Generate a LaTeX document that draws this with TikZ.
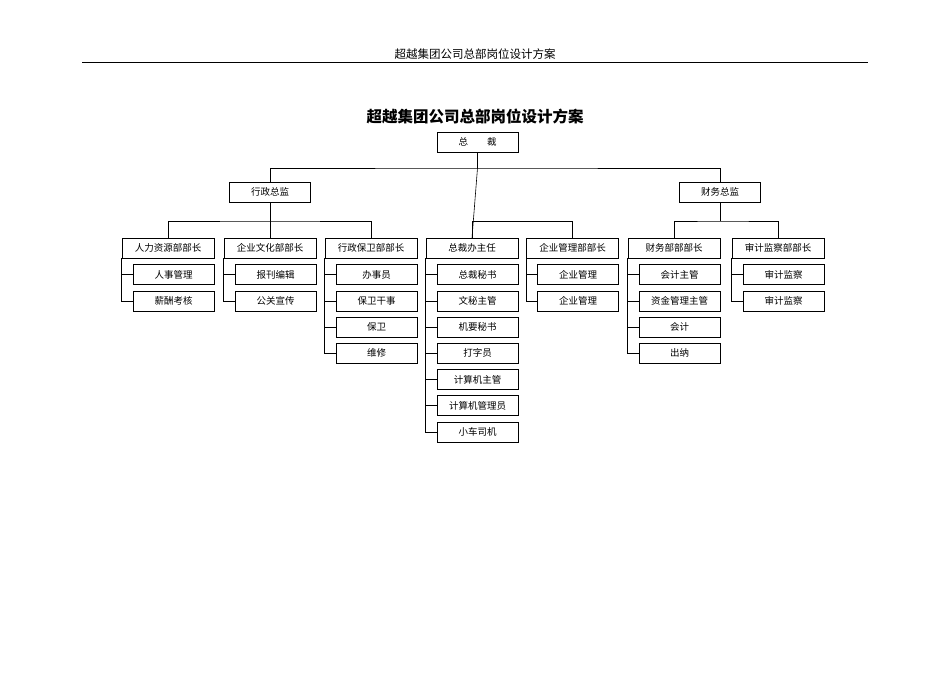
\documentclass[tikz,border=0pt]{standalone}
\usepackage{fontspec}
\setmainfont{Noto Sans CJK SC}
\begin{document}
\begin{tikzpicture}[x=1pt, y=-1pt, semithick,
	box/.style={draw, minimum width=81pt, minimum height=20pt, inner sep=0pt, font=\fontsize{9.5}{10}\selectfont},
	head/.style={box, minimum width=92pt}]
		\useasboundingbox (0, 0) rectangle (950, 672);
		\node at (475, 54) {\fontsize{11.5}{12}\selectfont 超越集团公司总部岗位设计方案};
		\draw[thin] (82, 62) -- (868, 62);
		\node at (475, 116) {\fontsize{15.5}{16}\selectfont\bfseries 超越集团公司总部岗位设计方案};
		
		\node[box] (ceo) at (477.5, 142) {总\quad\quad 裁};
		\node[box] (admin) at (270, 192) {行政总监};
		\node[box] (fin) at (720, 192) {财务总监};
		\coordinate (top) at (477.5, 168);
		\draw (ceo) -- (top);
		\draw (admin.north) |- (top) -| (fin.north);
		
		% department heads
		\foreach \n/\x/\t in {hr/168/人力资源部部长, cul/270/企业文化部部长, sec/371/行政保卫部部长,
			off/472/总裁办主任, mgt/572.5/企业管理部部长, acc/674/财务部部部长, aud/778/审计监察部部长}
			\node[head] (\n) at (\x, 248) {\t};
		\draw (admin) -- (270, 221);
		\draw (hr.north) |- (270, 221) -| (sec.north);
		\draw (cul.north) -- (270, 221);
		\draw (top) -- (off.north);
		\draw (off.north) |- (572.5, 221) -- (mgt.north);
		\draw (fin) -- (720, 221);
		\draw (acc.north) |- (720, 221) -| (aud.north);
		
		% staff
		\foreach \p/\list in {hr/{人事管理,薪酬考核}, cul/{报刊编辑,公关宣传},
			sec/{办事员,保卫干事,保卫,维修},
			off/{总裁秘书,文秘主管,机要秘书,打字员,计算机主管,计算机管理员,小车司机},
			mgt/{企业管理,企业管理}, acc/{会计主管,资金管理主管,会计,出纳}, aud/{审计监察,审计监察}}
			\foreach \t [count=\i] in \list {
				\node[box, anchor=north east] (\p\i) at ([yshift=-6pt-(\i-1)*26.2pt]\p.south east) {\t};
				\draw (\p.south west) |- (\p\i.west);
			};
\end{tikzpicture}
\end{document}
